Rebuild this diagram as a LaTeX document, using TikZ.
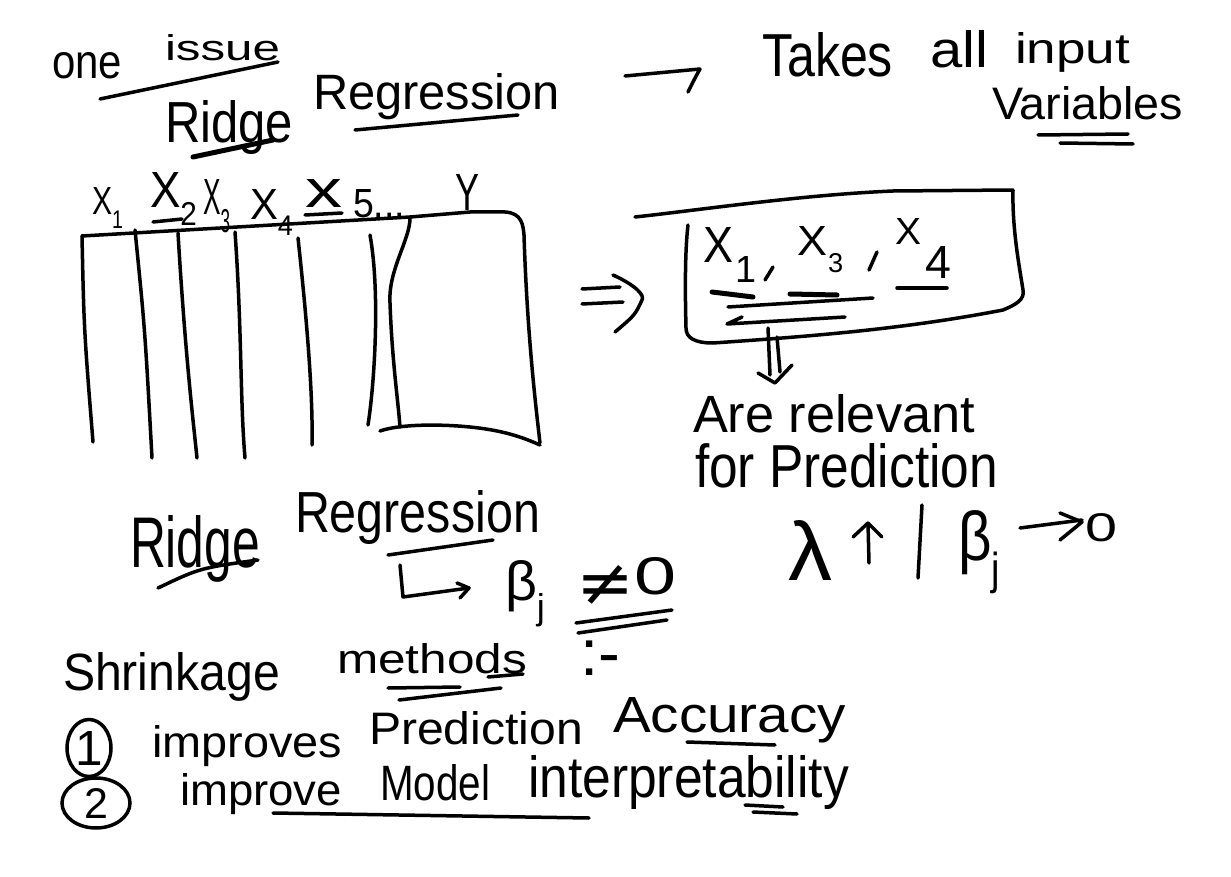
\documentclass[tikz,border=0pt]{standalone}
\usepackage{fontspec}
\usepackage{graphicx}
\setmainfont{Liberation Sans}
\newfontfamily\symfont{DejaVu Sans}
\usetikzlibrary{shapes.geometric}
\newcommand{\hw}[2]{\resizebox{#1pt}{!}{#2}}
\newcommand{\hwh}[3]{\resizebox{#1pt}{#2pt}{#3}}
\newcommand{\hh}[2]{\resizebox{!}{#1pt}{#2}}
\newcommand{\sbs}[1]{\raisebox{-0.35em}{\fontsize{26}{28}\selectfont #1}}
\tikzset{
  pen/.style={line width=3.5pt, line cap=round, line join=round, black},
  txt/.style={inner sep=0pt, outer sep=0pt, anchor=base west, font=\fontsize{40}{48}\selectfont},
  ctxt/.style={inner sep=0pt, outer sep=0pt, anchor=center, font=\fontsize{40}{48}\selectfont},
  ring/.style={draw, ellipse, line width=3.5pt, inner sep=0pt}
}
\begin{document}
\begin{tikzpicture}[x=1pt,y=-1pt]
\fill[white] (0,0) rectangle (1231,877);
\useasboundingbox (0,0) rectangle (1231,877);

% ---- top lines
\node[txt] (one) at (52,79) {\hwh{70}{26}{one}};
\node[txt] (issue) at (165,61) {\hwh{115}{26}{issue}};
\draw[pen] (100,99) -- (278,62);
\node[txt] (ridge1) at (165,143) {\hwh{128}{42}{Ridge}};
\node[txt] (regr1) at (313,110) {\hwh{247}{36}{Regression}};
\draw[pen, line width=5pt] (193,157) -- (273,140);
\draw[pen] (355,130) -- (518,115);
\coordinate (a1s) at (625,76);
\coordinate (a1e) at (700,69);
\draw[pen] (a1s) -- (a1e) .. controls (695,78) .. (688,92);
\node[txt] (takes) at (762,77) {\hwh{131}{44}{Takes}};
\node[txt] (all) at (930,68) {\hwh{58}{37}{all}};
\node[txt] (input) at (1015,64) {\hwh{115}{31}{input}};
\node[txt] (vars) at (992,120) {\hwh{191}{33}{Variables}};
\draw[pen] (1038,135) -- (1128,134);
\draw[pen] (1060,143) -- (1133,144);

% ---- table header
\node[txt] (x1) at (92,215) {\hwh{31}{27}{X\sbs{1}}};
\node[txt] (x2) at (150,208) {\hwh{47}{35}{X\sbs{2}}};
\node[txt] (x3) at (203,215) {\hwh{27}{35}{X\sbs{3}}};
\node[txt] (x4) at (250,220) {\hwh{43}{30}{X\sbs{4}}};
\node[txt] (x5) at (305,208) {\hwh{37}{28}{x}};
\node[txt] (x5b) at (353,218) {\hwh{52}{28}{5...}};
\node[txt] (ylab) at (455,211) {\hwh{24}{36}{Y}};
\draw[pen] (153,222) -- (182,219);
\draw[pen] (305,215) -- (342,213);

% ---- table
\draw[pen] (82,236) -- (410,217) -- (470,212) -- (505,212)
  .. controls (522,213) and (523,225) .. (524,235)
  .. controls (527,330) and (535,400) .. (540,443);
\draw[pen] (380,431) .. controls (400,424) and (440,424) .. (470,427)
  .. controls (500,430) and (520,436) .. (540,445);
\draw[pen] (82,236) .. controls (84,330) .. (93,442);
\draw[pen] (135,230) .. controls (145,330) .. (152,458);
\draw[pen] (178,233) .. controls (185,350) and (192,410) .. (197,458);
\draw[pen] (235,232) .. controls (242,330) and (240,400) .. (245,458);
\draw[pen] (298,238) .. controls (308,330) and (313,400) .. (312,445);
\draw[pen] (370,235) .. controls (380,290) and (375,380) .. (368,425);
\draw[pen] (410,218) .. controls (410,240) and (388,270) .. (390,303)
  .. controls (392,360) and (398,400) .. (400,427);

% ---- implies arrow
\draw[pen] (582,289) -- (620,287);
\draw[pen] (582,304) -- (623,302);
\draw[pen] (613,275) .. controls (635,285) and (645,295) .. (642,300)
  .. controls (635,315) .. (615,332);

% ---- box
\draw[pen] (635,217) .. controls (700,210) and (800,195) .. (893,191) -- (1012,190);
\draw[pen] (1013,190) .. controls (1012,230) and (1020,270) .. (1023,290)
  .. controls (1025,300) and (1015,305) .. (1003,310)
  .. controls (900,330) and (800,337) .. (713,343)
  .. controls (695,343) and (686,338) .. (686,328)
  .. controls (685,290) and (685,250) .. (688,225);
\node[txt] (bX1) at (703,262) {\hwh{30}{35}{X}};
\node[txt] (b1) at (735,283) {\hh{26}{1}};
\node[txt] (bX3) at (797,255) {\hwh{30}{29}{X}};
\node[txt] (b3) at (828,273) {\hh{19}{3}};
\node[txt] (bX4) at (895,245) {\hwh{26}{26}{X}};
\node[txt] (b4) at (925,278) {\hh{32}{4}};
\draw[pen] (773,267) -- (765,280);
\draw[pen] (877,252) -- (869,270);
\draw[pen, line width=5pt] (712,292) -- (753,297);
\draw[pen, line width=5pt] (790,294) -- (837,295);
\draw[pen] (897,288) -- (947,288);
\draw[pen] (728,307) -- (873,298);
\draw[pen] (742,317) -- (727,324) -- (845,317);
\coordinate (d1a) at (768,328); \coordinate (d1b) at (770,375);
\coordinate (d2a) at (777,337); \coordinate (d2b) at (780,372);
\draw[pen] (d1a) -- (d1b);
\draw[pen] (d2a) -- (d2b);
\draw[pen] (758,373) -- (775,383) -- (792,365);
\node[txt] (are) at (693,432) {\hwh{282}{38}{Are relevant}};
\node[txt] (forpred) at (695,487) {\hwh{303}{44}{for Prediction}};

% ---- lambda line
\node[txt] (lam) at (788,580) {\hwh{44}{60}{λ}};
\coordinate (ua) at (869,563); \coordinate (ub) at (868,523);
\draw[pen] (ua) -- (ub);
\draw[pen] (853,537) -- (ub) -- (882,537);
\draw[pen] (922,505) -- (918,578);
\node[txt] (beta2) at (958,560) {\hwh{42}{50}{β\sbs{j}}};
\coordinate (ra) at (1020,528); \coordinate (rb) at (1082,520);
\draw[pen] (ra) -- (rb);
\draw[pen] (1060,513) -- (1082,522) -- (1060,540);
\node[txt] (zero2) at (1085,541) {\hwh{32}{28}{0}};

% ---- bottom ridge regression
\node[txt] (ridge2) at (130,567) {\hwh{130}{52}{Ridge}};
\node[txt] (regr2) at (295,532) {\hwh{245}{42}{Regression}};
\draw[pen] (158,588) .. controls (200,568) .. (258,560);
\draw[pen] (388,555) -- (493,540);
\coordinate (la) at (400,565); \coordinate (lb) at (403,597); \coordinate (lc) at (469,588);
\draw[pen] (la) -- (lb) -- (lc);
\draw[pen] (457,583) -- (lc) -- (460,598);
\node[txt] (beta1) at (505,600) {\hwh{40}{40}{β\sbs{j}}};
\node[ctxt] (neq) at (605,585) {\hwh{58}{40}{\symfont ≠}};
\node[txt] (zero1) at (634,594) {\hwh{42}{37}{0}};
\draw[pen] (576,623) -- (672,610);
\draw[pen] (578,633) -- (667,620);

% ---- shrinkage
\node[txt] (shr) at (63,690) {\hwh{217}{38}{Shrinkage}};
\node[txt] (meth) at (337,673) {\hwh{190}{30}{methods}};
\draw[pen] (488,677) -- (523,674);
\draw[pen] (388,688) -- (460,687);
\draw[pen] (399,700) -- (501,688);
\node[txt] (colon) at (580,675) {\hw{40}{:-}};

% ---- numbered items
\node[ring, minimum width=44pt, minimum height=57pt] (c1) at (89,748) {};
\node[ctxt] (c1t) at (c1.center) {\hh{34}{1}};
\node[ring, minimum width=68pt, minimum height=50pt] (c2) at (96,803) {};
\node[ctxt] (c2t) at (c2.center) {\hh{30}{2}};
\node[txt] (imp1) at (152,757) {\hwh{190}{32}{improves}};
\node[txt] (pred2) at (369,744) {\hwh{214}{33}{Prediction}};
\node[txt] (acc) at (613,732) {\hwh{233}{35}{Accuracy}};
\draw[pen] (687,742) -- (775,745);
\node[txt] (imp2) at (180,805) {\hwh{162}{32}{improve}};
\node[txt] (model) at (380,800) {\hwh{110}{36}{Model}};
\node[txt] (interp) at (528,797) {\hwh{321}{42}{interpretability}};
\draw[pen] (273,813) -- (589,818);
\draw[pen] (745,805) -- (783,807);
\draw[pen] (753,812) -- (797,814);
\end{tikzpicture}
\end{document}
